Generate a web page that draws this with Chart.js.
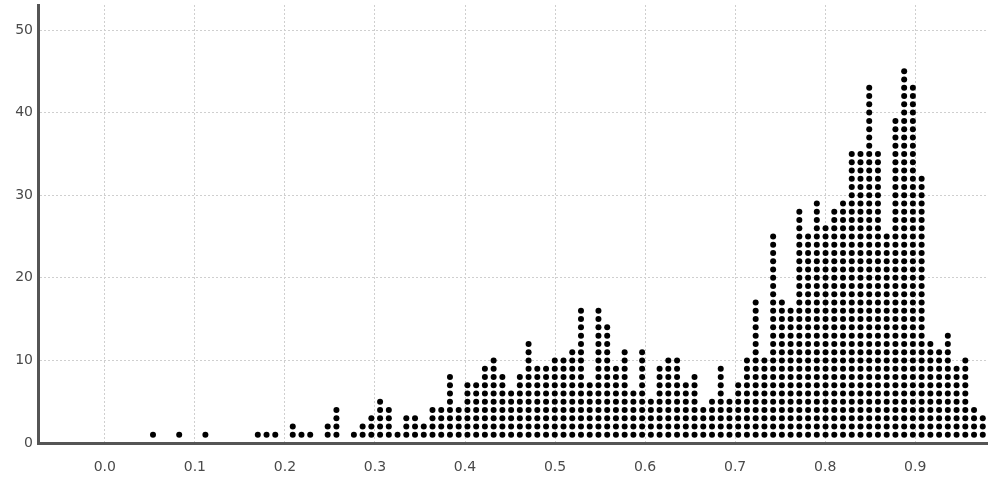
<!DOCTYPE html>
<html>
<head>
<meta charset="utf-8">
<script src="https://cdn.jsdelivr.net/npm/chart.js@4/dist/chart.umd.min.js"></script>
<style>
  html, body { margin: 0; padding: 0; background: #fff; }
  #wrap { width: 990px; height: 480px; }
</style>
</head>
<body>
<div id="wrap"><canvas id="plot" width="990" height="480"></canvas></div>
<script>
// dot counts per bin (left to right)
const counts = [
  1, 0, 0, 1, 0, 0, 1, 0, 0, 0,
  0, 0, 1, 1, 1, 0, 2, 1, 1, 0,
  2, 4, 0, 1, 2, 3, 5, 4, 1, 3,
  3, 2, 4, 4, 8, 4, 7, 7, 9, 10,
  8, 6, 8, 12, 9, 9, 10, 10, 11, 16,
  7, 16, 14, 9, 11, 6, 11, 5, 9, 10,
  10, 7, 8, 4, 5, 9, 5, 7, 10, 17,
  10, 25, 17, 16, 28, 25, 29, 26, 28, 29,
  35, 35, 43, 35, 25, 39, 45, 43, 32, 12,
  11, 13, 9, 10, 4, 3
];
const binStart = 0.0535;
const binStep = 0.0097;
const xTicks = [0, 0.1, 0.2, 0.3, 0.4, 0.5, 0.6, 0.7, 0.8, 0.9];
const yTicks = [0, 10, 20, 30, 40, 50];

// one point per dot, stacked upward in each bin
const dots = [];
counts.forEach((c, i) => {
  const x = binStart + i * binStep;
  for (let k = 1; k <= c; k++) dots.push({ x: x, y: k });
});

const tickFont = { family: "DejaVu Sans", size: 14 };
const gridStyle = { color: "#cfcfcf", drawTicks: false, tickLength: 0 };
const axisBorder = { color: "#555", width: 3, dash: [2, 2] };

new Chart(document.getElementById("plot").getContext("2d"), {
  type: "scatter",
  data: {
    datasets: [{
      data: dots,
      backgroundColor: "#000",
      borderWidth: 0,
      pointRadius: 3,
      pointHoverRadius: 3
    }]
  },
  options: {
    responsive: false,
    animation: false,
    events: [],
    layout: { padding: { top: 5, right: 0, left: 0, bottom: 0 } },
    plugins: { legend: { display: false }, tooltip: { enabled: false } },
    scales: {
      x: {
        type: "linear",
        min: -0.0742,
        max: 0.9797,
        afterBuildTicks: (s) => { s.ticks = xTicks.map((v) => ({ value: v })); },
        afterFit: (s) => { s.height = 37; s.paddingLeft = 0; s.paddingRight = 0; },
        ticks: {
          font: tickFont,
          color: "#4a4a4a",
          padding: 16,
          maxRotation: 0,
          callback: (v) => Number(v).toFixed(1)
        },
        grid: gridStyle,
        border: axisBorder
      },
      y: {
        min: 0,
        max: 53.03,
        afterBuildTicks: (s) => { s.ticks = yTicks.map((v) => ({ value: v })); },
        afterFit: (s) => { s.width = 38; s.paddingTop = 0; s.paddingBottom = 0; },
        ticks: { font: tickFont, color: "#4a4a4a", padding: 5 },
        grid: gridStyle,
        border: axisBorder
      }
    }
  }
});
</script>
</body>
</html>
